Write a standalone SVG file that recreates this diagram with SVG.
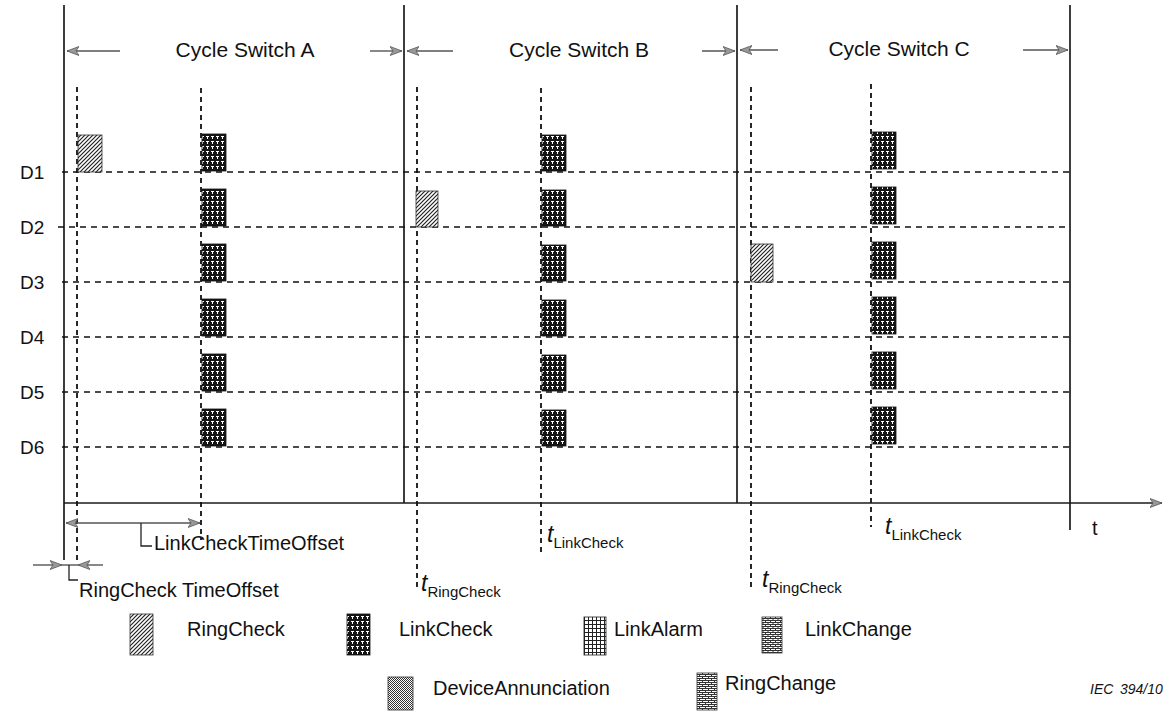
<svg xmlns="http://www.w3.org/2000/svg" width="1176" height="714" viewBox="0 0 1176 714">
  <defs>
    <style>
      .lbl { font-family: "Liberation Sans", Arial, sans-serif; fill: #111; }
      .solid { stroke: #1a1a1a; stroke-width: 1.7; fill: none; }
      .row { stroke: #111; stroke-width: 1.7; stroke-dasharray: 6 5; fill: none; }
      .tick { stroke: #111; stroke-width: 1.8; stroke-dasharray: 5 4; fill: none; }
      .arr { stroke: #555; stroke-width: 1.4; fill: none; }
      .lead { stroke: #222; stroke-width: 1.3; fill: none; }
      .ring { fill: url(#pRing); stroke: #333; stroke-width: 0.8; }
      .link { fill: url(#pLink); stroke: #111; stroke-width: 0.8; }
      .alarm { fill: url(#pAlarm); stroke: #222; stroke-width: 0.8; }
      .lchange { fill: url(#pLChange); stroke: #333; stroke-width: 0.8; }
      .dev { fill: url(#pDev); stroke: #333; stroke-width: 0.8; }
      .rchange { fill: url(#pRChange); stroke: #333; stroke-width: 0.8; }
    </style>
    <!-- diagonal hatch -->
    <pattern id="pRing" width="4" height="4" patternUnits="userSpaceOnUse">
      <rect width="4" height="4" fill="#fff"/>
      <path d="M-1,5 L5,-1 M-1,1 L1,-1 M3,5 L5,3" stroke="#222" stroke-width="1.2"/>
    </pattern>
    <!-- dense dark weave -->
    <pattern id="pLink" width="5" height="5" patternUnits="userSpaceOnUse">
      <rect width="5" height="5" fill="#151515"/>
      <rect x="1" y="1" width="3" height="1" fill="#fff"/>
      <rect x="2" y="2" width="1" height="2" fill="#fff"/>
    </pattern>
    <!-- open grid -->
    <pattern id="pAlarm" width="4" height="4" patternUnits="userSpaceOnUse">
      <rect width="4" height="4" fill="#fff"/>
      <path d="M0,0.5H4 M0.5,0V4" stroke="#222" stroke-width="1"/>
    </pattern>
    <!-- brick -->
    <pattern id="pLChange" width="5" height="4" patternUnits="userSpaceOnUse">
      <rect width="5" height="4" fill="#fff"/>
      <path d="M0,0.5H5 M0,2.5H5 M0.5,0V2 M3,2V4" stroke="#333" stroke-width="1"/>
    </pattern>
    <!-- stipple -->
    <pattern id="pDev" width="2" height="2" patternUnits="userSpaceOnUse">
      <rect width="2" height="2" fill="#fff"/>
      <rect width="1" height="1" fill="#333"/>
      <rect x="1" y="1" width="1" height="1" fill="#333"/>
    </pattern>
    <!-- fine brick -->
    <pattern id="pRChange" width="6" height="4" patternUnits="userSpaceOnUse">
      <rect width="6" height="4" fill="#fff"/>
      <path d="M0,0.5H6 M0,2.5H6 M0.5,0V2 M3.5,2V4" stroke="#333" stroke-width="1"/>
    </pattern>
    <marker id="head" viewBox="0 0 12 10" refX="12" refY="5" markerWidth="12" markerHeight="10" markerUnits="userSpaceOnUse" orient="auto-start-reverse">
      <path d="M0,0.5 L12,5 L0,9.5 L3,5 Z" fill="#999" stroke="#555" stroke-width="0.8"/>
    </marker>
  </defs>

  <rect width="1176" height="714" fill="#fff"/>

  <g id="connectors">
    <!-- cycle boundaries -->
    <line class="solid" x1="64" y1="5" x2="64" y2="560"/>
    <line class="solid" x1="404" y1="5" x2="404" y2="503"/>
    <line class="solid" x1="737" y1="5" x2="737" y2="503"/>
    <line class="solid" x1="1070" y1="5" x2="1070" y2="530"/>
    <!-- time axis -->
    <line class="solid" x1="64" y1="503" x2="1162" y2="503" marker-end="url(#head)"/>
    <!-- device rows -->
    <line class="row" x1="62" y1="172" x2="1070" y2="172"/>
    <line class="row" x1="58" y1="227" x2="1070" y2="227"/>
    <line class="row" x1="62" y1="282" x2="1070" y2="282"/>
    <line class="row" x1="62" y1="337" x2="1070" y2="337"/>
    <line class="row" x1="62" y1="392" x2="1070" y2="392"/>
    <line class="row" x1="62" y1="447" x2="1070" y2="447"/>
    <!-- check instants -->
    <line class="tick" x1="77" y1="87" x2="77" y2="560"/>
    <line class="tick" x1="201" y1="88" x2="201" y2="540"/>
    <line class="tick" x1="417" y1="87" x2="417" y2="590"/>
    <line class="tick" x1="541" y1="88" x2="541" y2="552"/>
    <line class="tick" x1="751" y1="87" x2="751" y2="590"/>
    <line class="tick" x1="871" y1="84" x2="871" y2="527"/>
    <!-- cycle span arrows -->
    <line class="arr" x1="120" y1="51" x2="67" y2="51" marker-end="url(#head)"/>
    <line class="arr" x1="370" y1="51" x2="402" y2="51" marker-end="url(#head)"/>
    <line class="arr" x1="453" y1="51" x2="407" y2="51" marker-end="url(#head)"/>
    <line class="arr" x1="702" y1="51" x2="735" y2="51" marker-end="url(#head)"/>
    <line class="arr" x1="778" y1="50" x2="740" y2="50" marker-end="url(#head)"/>
    <line class="arr" x1="1023" y1="50" x2="1068" y2="50" marker-end="url(#head)"/>
    <!-- offsets -->
    <line class="arr" x1="66" y1="523" x2="200" y2="523" marker-start="url(#head)" marker-end="url(#head)"/>
    <polyline class="lead" points="141,523 141,546 152,546"/>
    <line class="arr" x1="33" y1="565" x2="62" y2="565" marker-end="url(#head)"/>
    <line class="arr" x1="62" y1="565" x2="78" y2="565"/>
    <line class="arr" x1="103" y1="565" x2="78" y2="565" marker-end="url(#head)"/>
    <polyline class="lead" points="69,565 69,580 78,580"/>
  </g>

  <g id="header">
    <text class="lbl" x="245" y="57" font-size="21" text-anchor="middle">Cycle Switch A</text>
    <text class="lbl" x="579" y="57" font-size="21" text-anchor="middle">Cycle Switch B</text>
    <text class="lbl" x="899" y="56" font-size="21" text-anchor="middle">Cycle Switch C</text>
  </g>

  <g id="devices">
    <text class="lbl" x="20" y="179" font-size="19">D1</text>
    <text class="lbl" x="20" y="234" font-size="19">D2</text>
    <text class="lbl" x="20" y="289" font-size="19">D3</text>
    <text class="lbl" x="20" y="344" font-size="19">D4</text>
    <text class="lbl" x="20" y="399" font-size="19">D5</text>
    <text class="lbl" x="20" y="454" font-size="19">D6</text>
  </g>

  <g id="cycle-a">
    <rect id="a-ring-d1" class="ring" x="78" y="135" width="24" height="37"/>
    <rect id="a-link-d1" class="link" x="202" y="134" width="24" height="37"/>
    <rect id="a-link-d2" class="link" x="202" y="189" width="24" height="37"/>
    <rect id="a-link-d3" class="link" x="202" y="244" width="24" height="37"/>
    <rect id="a-link-d4" class="link" x="202" y="299" width="24" height="37"/>
    <rect id="a-link-d5" class="link" x="202" y="354" width="24" height="37"/>
    <rect id="a-link-d6" class="link" x="202" y="409" width="24" height="37"/>
  </g>

  <g id="cycle-b">
    <rect id="b-ring-d2" class="ring" x="416" y="191" width="22" height="36"/>
    <rect id="b-link-d1" class="link" x="542" y="135" width="24" height="36"/>
    <rect id="b-link-d2" class="link" x="542" y="190" width="24" height="36"/>
    <rect id="b-link-d3" class="link" x="542" y="245" width="24" height="36"/>
    <rect id="b-link-d4" class="link" x="542" y="300" width="24" height="36"/>
    <rect id="b-link-d5" class="link" x="542" y="355" width="24" height="36"/>
    <rect id="b-link-d6" class="link" x="542" y="410" width="24" height="36"/>
  </g>

  <g id="cycle-c">
    <rect id="c-ring-d3" class="ring" x="751" y="244" width="22" height="38"/>
    <rect id="c-link-d1" class="link" x="872" y="132" width="24" height="37"/>
    <rect id="c-link-d2" class="link" x="872" y="187" width="24" height="37"/>
    <rect id="c-link-d3" class="link" x="872" y="242" width="24" height="37"/>
    <rect id="c-link-d4" class="link" x="872" y="297" width="24" height="37"/>
    <rect id="c-link-d5" class="link" x="872" y="352" width="24" height="37"/>
    <rect id="c-link-d6" class="link" x="872" y="407" width="24" height="37"/>
  </g>

  <g id="annotations">
    <text class="lbl" x="154" y="550" font-size="20">LinkCheckTimeOffset</text>
    <text class="lbl" x="79" y="597" font-size="20">RingCheck TimeOffset</text>
    <text class="lbl" x="1092" y="535" font-size="20">t</text>
    <text class="lbl" x="547" y="542" font-size="23" font-style="italic">t<tspan font-size="15" font-style="normal" dy="6">LinkCheck</tspan></text>
    <text class="lbl" x="885" y="534" font-size="23" font-style="italic">t<tspan font-size="15" font-style="normal" dy="6">LinkCheck</tspan></text>
    <text class="lbl" x="421" y="591" font-size="23" font-style="italic">t<tspan font-size="15" font-style="normal" dy="6">RingCheck</tspan></text>
    <text class="lbl" x="762" y="587" font-size="23" font-style="italic">t<tspan font-size="15" font-style="normal" dy="6">RingCheck</tspan></text>
  </g>

  <g id="legend">
    <g id="legend-ringcheck">
      <rect class="ring" x="130" y="614" width="23" height="41"/>
      <text class="lbl" x="187" y="636" font-size="20">RingCheck</text>
    </g>
    <g id="legend-linkcheck">
      <rect class="link" x="347" y="614" width="23" height="41"/>
      <text class="lbl" x="399" y="636" font-size="20">LinkCheck</text>
    </g>
    <g id="legend-linkalarm">
      <rect class="alarm" x="584" y="617" width="22" height="38"/>
      <text class="lbl" x="614" y="636" font-size="20">LinkAlarm</text>
    </g>
    <g id="legend-linkchange">
      <rect class="lchange" x="762" y="617" width="20" height="36"/>
      <text class="lbl" x="805" y="636" font-size="20">LinkChange</text>
    </g>
    <g id="legend-deviceannunciation">
      <rect class="dev" x="388" y="677" width="25" height="33"/>
      <text class="lbl" x="433" y="695" font-size="20">DeviceAnnunciation</text>
    </g>
    <g id="legend-ringchange">
      <rect class="rchange" x="697" y="673" width="20" height="37"/>
      <text class="lbl" x="725" y="690" font-size="20">RingChange</text>
    </g>
  </g>

  <text class="lbl" x="1090" y="694" font-size="14" font-style="italic">IEC<tspan x="1120">394/10</tspan></text>
</svg>
